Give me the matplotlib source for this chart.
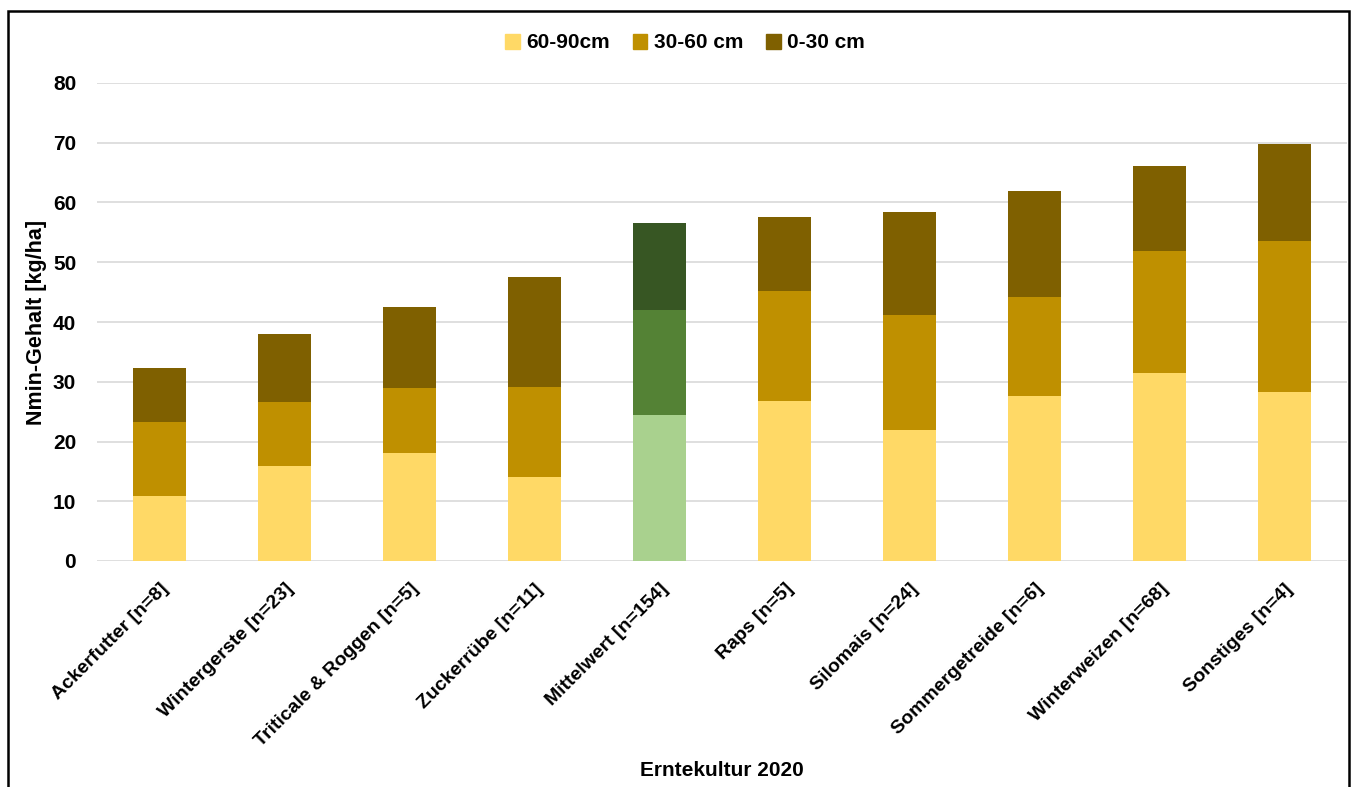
import matplotlib.pyplot as plt
from matplotlib.patches import Rectangle, Patch

plt.rcParams['font.family'] = ['Liberation Sans', 'DejaVu Sans']
plt.rcParams['font.weight'] = 'bold'

kulturen = ['Ackerfutter [n=8]', 'Wintergerste [n=23]', 'Triticale & Roggen [n=5]',
            'Zuckerrübe [n=11]', 'Mittelwert [n=154]', 'Raps [n=5]', 'Silomais [n=24]',
            'Sommergetreide [n=6]', 'Winterweizen [n=68]', 'Sonstiges [n=4]']
# Nmin per layer, kg/ha
n_60_90 = [10.9, 15.9, 18.1, 14.1, 24.4, 26.8, 21.9, 27.6, 31.5, 28.3]
n_30_60 = [12.4, 10.7, 10.9, 15.0, 17.6, 18.4, 19.3, 16.6, 20.4, 25.3]
n_0_30 = [9.0, 11.4, 13.5, 18.4, 14.6, 12.4, 17.2, 17.7, 14.2, 16.2]
schichten = ['60-90cm', '30-60 cm', '0-30 cm']

gelb = ['#FFD966', '#BF9000', '#7F6000']
gruen = ['#A9D18E', '#548235', '#375623']
mittel_idx = kulturen.index('Mittelwert [n=154]')

fig = plt.figure(figsize=(13.54, 7.87), dpi=100)
ax = fig.add_axes([97 / 1354, 1 - 561 / 787, 1250 / 1354, 478 / 787])

x = list(range(len(kulturen)))
unten = [0] * len(kulturen)
for k, werte in enumerate([n_60_90, n_30_60, n_0_30]):
    farben = [gruen[k] if i == mittel_idx else gelb[k] for i in x]
    ax.bar(x, werte, width=0.42, bottom=unten, color=farben, zorder=2)
    unten = [u + w for u, w in zip(unten, werte)]

ax.set_xlim(-0.5, len(kulturen) - 0.5)
ax.set_ylim(0, 80)
ax.set_yticks(range(0, 81, 10))
ax.grid(axis='y', color='#D9D9D9', linewidth=1.2, zorder=0)
for s in ax.spines.values():
    s.set_visible(False)
ax.tick_params(length=0)
ax.tick_params(axis='y', labelsize=15, pad=15)
ax.set_xticks(x)
ax.set_xticklabels(kulturen, rotation=45, ha='right', rotation_mode='anchor',
                   fontsize=14, fontweight='bold')
ax.tick_params(axis='x', pad=14)
ax.set_ylabel('Nmin-Gehalt [kg/ha]', fontsize=15.5, fontweight='bold', labelpad=4)
fig.text(722 / 1354, 1 - 771 / 787, 'Erntekultur 2020', ha='center', va='center',
         fontsize=15, fontweight='bold')

handles = [Patch(color=c) for c in gelb]
fig.legend(handles, schichten, loc='center', bbox_to_anchor=(685 / 1354, 1 - 43 / 787),
           ncol=3, frameon=False, fontsize=15, handlelength=0.7, handleheight=0.7,
           handletextpad=0.3, columnspacing=1.1)

fig.patches.append(Rectangle((8 / 1354, -0.05), 1341 / 1354, 1.05 - 11 / 787,
                             transform=fig.transFigure, fill=False,
                             edgecolor='black', linewidth=1.8))

fig.savefig('out.png', dpi=100)
